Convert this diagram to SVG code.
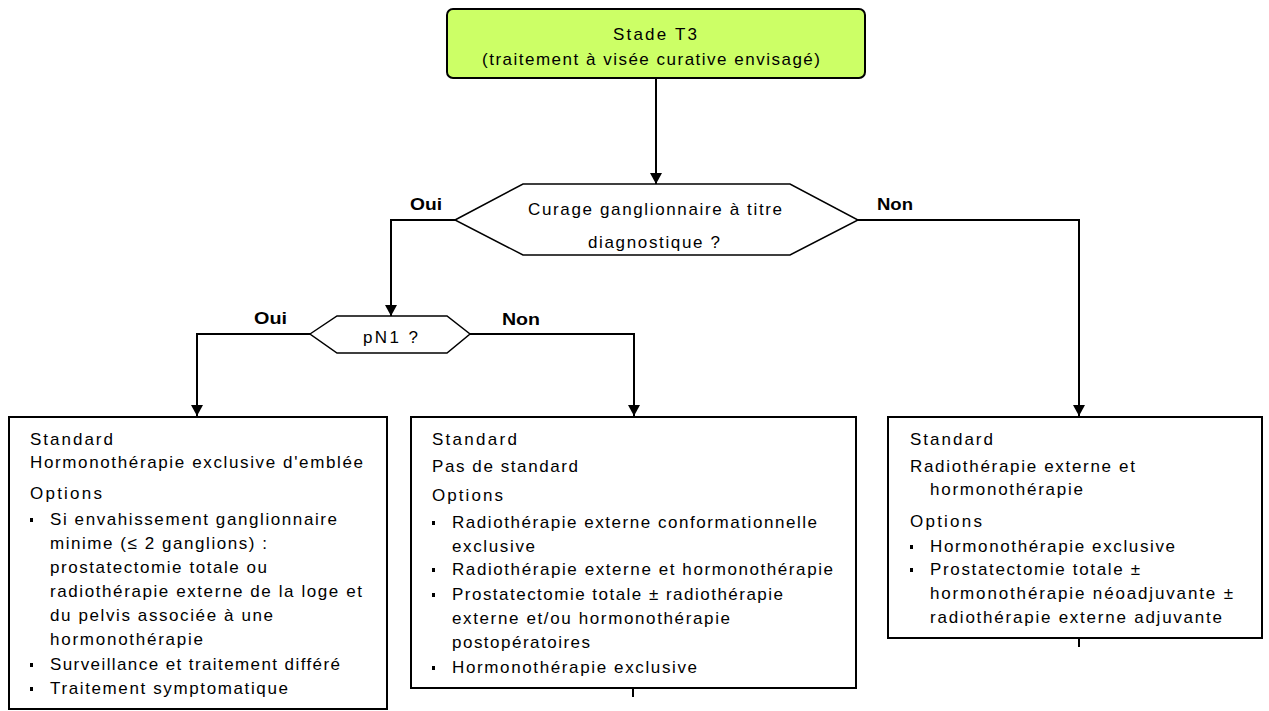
<svg xmlns="http://www.w3.org/2000/svg" width="1269" height="711" viewBox="0 0 1269 711">
<defs>
<marker id="arr" markerUnits="userSpaceOnUse" markerWidth="11" markerHeight="12" refX="11" refY="6" orient="auto">
<path d="M0,0 L11,6 L0,12 z" fill="#000"/>
</marker>
<style>
.t{font-family:"Liberation Sans",Arial,sans-serif;font-size:17px;fill:#000}
.b{font-family:"Liberation Sans",Arial,sans-serif;font-size:16px;font-weight:bold;fill:#000}
.box{fill:#fff;stroke:#000;stroke-width:2}
.hex{fill:#fff;stroke:#000;stroke-width:1.5}
.c{fill:none;stroke:#000;stroke-width:2}
.bul{fill:#000}
</style>
</defs>
<rect width="1269" height="711" fill="#fff"/>

<g id="connectors">
<path class="c" d="M656,78 V184" marker-end="url(#arr)"/>
<path class="c" d="M455,220 H391 V316" marker-end="url(#arr)"/>
<path class="c" d="M858,220 H1079 V416" marker-end="url(#arr)"/>
<path class="c" d="M310,334 H197 V416" marker-end="url(#arr)"/>
<path class="c" d="M470,334 H634 V416" marker-end="url(#arr)"/>
<path class="c" d="M633,689 V697"/>
<path class="c" d="M1079,639 V647"/>
</g>

<g id="labels">
<text class="b" x="410" y="210" textLength="32" lengthAdjust="spacingAndGlyphs">Oui</text>
<text class="b" x="877" y="210" textLength="36" lengthAdjust="spacingAndGlyphs">Non</text>
<text class="b" x="254" y="324" textLength="33" lengthAdjust="spacingAndGlyphs">Oui</text>
<text class="b" x="502" y="325" textLength="38" lengthAdjust="spacingAndGlyphs">Non</text>
</g>

<g id="start">
<rect x="447" y="9" width="418" height="69" rx="6" fill="#ccff66" stroke="#000" stroke-width="2"/>
<text class="t" x="613" y="40" textLength="84" lengthAdjust="spacing">Stade T3</text>
<text class="t" x="482" y="65" textLength="338" lengthAdjust="spacing">(traitement à visée curative envisagé)</text>
</g>

<g id="decision-curage">
<polygon class="hex" points="455,220 523,184 790,184 858,220 790,255 523,255"/>
<text class="t" x="528" y="215" textLength="254" lengthAdjust="spacing">Curage ganglionnaire à titre</text>
<text class="t" x="588" y="248" textLength="132" lengthAdjust="spacing">diagnostique ?</text>
</g>

<g id="decision-pn1">
<polygon class="hex" points="310,334 337,316 447,316 470,334 447,353 337,353"/>
<text class="t" x="363" y="343" textLength="55" lengthAdjust="spacing">pN1 ?</text>
</g>

<g id="box-left">
<rect class="box" x="9" y="417" width="378" height="292"/>
<text class="t" x="30" y="445" textLength="83" lengthAdjust="spacing">Standard</text>
<text class="t" x="30" y="468" textLength="333" lengthAdjust="spacing">Hormonothérapie exclusive d'emblée</text>
<text class="t" x="30" y="499" textLength="72" lengthAdjust="spacing">Options</text>
<rect class="bul" x="30" y="518" width="3" height="4"/>
<text class="t" x="50" y="525" textLength="287" lengthAdjust="spacing">Si envahissement ganglionnaire</text>
<text class="t" x="50" y="549" textLength="217" lengthAdjust="spacing">minime (≤ 2 ganglions) :</text>
<text class="t" x="50" y="573" textLength="217" lengthAdjust="spacing">prostatectomie totale ou</text>
<text class="t" x="50" y="597" textLength="312" lengthAdjust="spacing">radiothérapie externe de la loge et</text>
<text class="t" x="50" y="621" textLength="223" lengthAdjust="spacing">du pelvis associée à une</text>
<text class="t" x="50" y="645" textLength="153" lengthAdjust="spacing">hormonothérapie</text>
<rect class="bul" x="30" y="663" width="3" height="4"/>
<text class="t" x="50" y="670" textLength="290" lengthAdjust="spacing">Surveillance et traitement différé</text>
<rect class="bul" x="30" y="687" width="3" height="4"/>
<text class="t" x="50" y="694" textLength="238" lengthAdjust="spacing">Traitement symptomatique</text>
</g>

<g id="box-middle">
<rect class="box" x="411" y="417" width="445" height="271"/>
<text class="t" x="432" y="445" textLength="85" lengthAdjust="spacing">Standard</text>
<text class="t" x="432" y="472" textLength="146" lengthAdjust="spacing">Pas de standard</text>
<text class="t" x="432" y="501" textLength="71" lengthAdjust="spacing">Options</text>
<rect class="bul" x="432" y="521" width="3" height="4"/>
<text class="t" x="452" y="528" textLength="365" lengthAdjust="spacing">Radiothérapie externe conformationnelle</text>
<text class="t" x="452" y="552" textLength="83" lengthAdjust="spacing">exclusive</text>
<rect class="bul" x="432" y="568" width="3" height="4"/>
<text class="t" x="452" y="575" textLength="381" lengthAdjust="spacing">Radiothérapie externe et hormonothérapie</text>
<rect class="bul" x="432" y="593" width="3" height="4"/>
<text class="t" x="452" y="600" textLength="331" lengthAdjust="spacing">Prostatectomie totale ± radiothérapie</text>
<text class="t" x="452" y="624" textLength="278" lengthAdjust="spacing">externe et/ou hormonothérapie</text>
<text class="t" x="452" y="648" textLength="138" lengthAdjust="spacing">postopératoires</text>
<rect class="bul" x="432" y="666" width="3" height="4"/>
<text class="t" x="452" y="673" textLength="245" lengthAdjust="spacing">Hormonothérapie exclusive</text>
</g>

<g id="box-right">
<rect class="box" x="888" y="417" width="374" height="221"/>
<text class="t" x="910" y="445" textLength="83" lengthAdjust="spacing">Standard</text>
<text class="t" x="910" y="472" textLength="225" lengthAdjust="spacing">Radiothérapie externe et</text>
<text class="t" x="930" y="495" textLength="153" lengthAdjust="spacing">hormonothérapie</text>
<text class="t" x="910" y="527" textLength="72" lengthAdjust="spacing">Options</text>
<rect class="bul" x="910" y="545" width="3" height="4"/>
<text class="t" x="930" y="552" textLength="245" lengthAdjust="spacing">Hormonothérapie exclusive</text>
<rect class="bul" x="910" y="568" width="3" height="4"/>
<text class="t" x="930" y="575" textLength="210" lengthAdjust="spacing">Prostatectomie totale ±</text>
<text class="t" x="930" y="599" textLength="303" lengthAdjust="spacing">hormonothérapie néoadjuvante ±</text>
<text class="t" x="930" y="623" textLength="292" lengthAdjust="spacing">radiothérapie  externe adjuvante</text>
</g>
</svg>
